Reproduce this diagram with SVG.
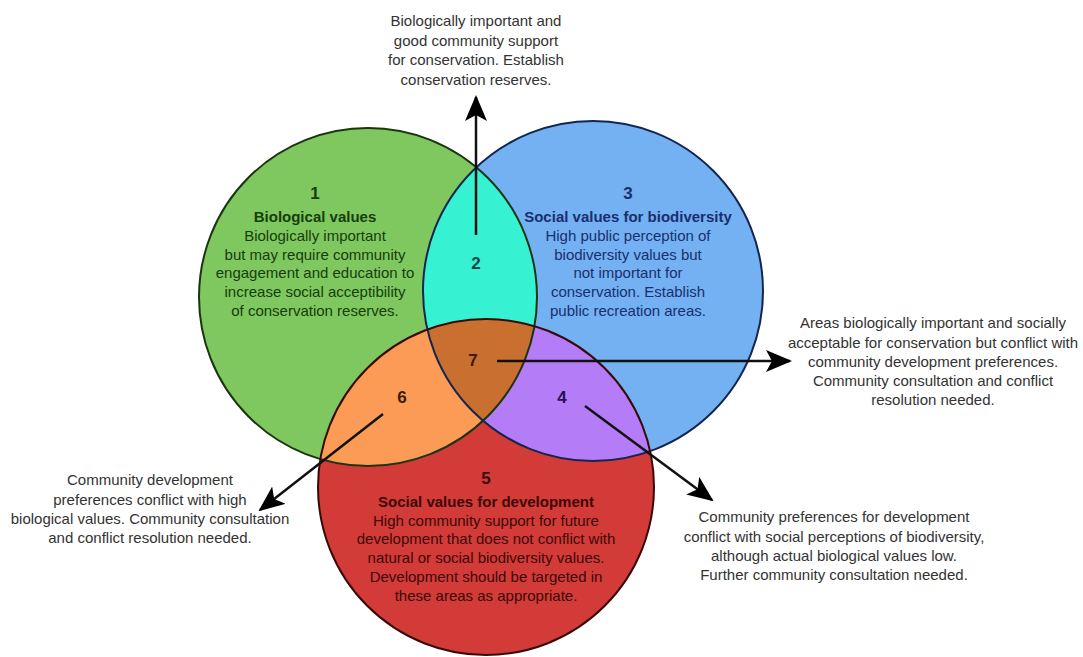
<svg xmlns="http://www.w3.org/2000/svg" width="1083" height="657" viewBox="0 0 1083 657">
<style>
text{font-family:"Liberation Sans",Arial,sans-serif;text-anchor:middle}
.body{font-size:15px}
.title{font-size:15px;font-weight:bold}
.num{font-size:17px;font-weight:bold}
.note{font-size:15px;fill:#333333}
.gtx{fill:#173d0c}
.btx{fill:#1b2e6e}
.rtx{fill:#3d0808}
.outline{fill:none;stroke-width:2}
.conn{stroke:#111111;stroke-width:2.5;fill:none;marker-end:url(#arrow)}
</style>
<defs>
<clipPath id="cG"><circle cx="368" cy="297" r="169"/></clipPath>
<clipPath id="cB"><circle cx="593" cy="291" r="170"/></clipPath>
<clipPath id="cR"><circle cx="486" cy="487" r="168"/></clipPath>
<marker id="arrow" viewBox="0 0 26 22" refX="24" refY="11" markerWidth="26" markerHeight="22" markerUnits="userSpaceOnUse" orient="auto">
<path d="M0,0 L26,11 L0,22 L6,11 Z" fill="#000"/>
</marker>
</defs>
<rect width="1083" height="657" fill="#ffffff"/>

<g id="fills">
<circle cx="368" cy="297" r="169" fill="#7ec85f"/>
<circle cx="593" cy="291" r="170" fill="#73b1f2"/>
<circle cx="486" cy="487" r="168" fill="#d23b37"/>
<circle cx="593" cy="291" r="170" fill="#36f2d2" clip-path="url(#cG)"/>
<circle cx="486" cy="487" r="168" fill="#fb9b55" clip-path="url(#cG)"/>
<circle cx="486" cy="487" r="168" fill="#b57cf7" clip-path="url(#cB)"/>
<g clip-path="url(#cB)"><circle cx="486" cy="487" r="168" fill="#c96f2f" clip-path="url(#cG)"/></g>
</g>
<g id="outlines">
<circle class="outline" cx="368" cy="297" r="169" stroke="#1c3510"/>
<circle class="outline" cx="593" cy="291" r="170" stroke="#14254f"/>
<circle class="outline" cx="486" cy="487" r="168" stroke="#3a0a0a"/>
</g>

<g id="node-1">
<text class="num gtx" x="315" y="199">1</text>
<text class="title gtx" x="315" y="222">Biological values</text>
<text class="body gtx" x="315" y="241">Biologically important</text>
<text class="body gtx" x="315" y="260">but may require community</text>
<text class="body gtx" x="315" y="278">engagement and education to</text>
<text class="body gtx" x="315" y="297">increase social acceptibility</text>
<text class="body gtx" x="315" y="316">of conservation reserves.</text>
</g>
<g id="node-3">
<text class="num btx" x="628" y="199">3</text>
<text class="title btx" x="628" y="222">Social values for biodiversity</text>
<text class="body btx" x="628" y="241">High public perception of</text>
<text class="body btx" x="628" y="260">biodiversity values but</text>
<text class="body btx" x="628" y="278">not important for</text>
<text class="body btx" x="628" y="297">conservation. Establish</text>
<text class="body btx" x="628" y="316">public recreation areas.</text>
</g>
<g id="node-5">
<text class="num rtx" x="486" y="484">5</text>
<text class="title rtx" x="486" y="507">Social values for development</text>
<text class="body rtx" x="486" y="526">High community support for future</text>
<text class="body rtx" x="486" y="544">development that does not conflict with</text>
<text class="body rtx" x="486" y="563">natural or social biodiversity values.</text>
<text class="body rtx" x="486" y="582">Development should be targeted in</text>
<text class="body rtx" x="486" y="601">these areas as appropriate.</text>
</g>
<g id="node-2"><text class="num" x="476" y="269" fill="#0b4a48">2</text></g>
<g id="node-7"><text class="num" x="473" y="366" fill="#3a1a08">7</text></g>
<g id="node-6"><text class="num" x="402" y="403" fill="#3a1a08">6</text></g>
<g id="node-4"><text class="num" x="562" y="403" fill="#2a0f55">4</text></g>

<g id="connectors">
<line class="conn" x1="476" y1="235" x2="476" y2="97"/>
<line class="conn" x1="497" y1="361" x2="790" y2="361"/>
<line class="conn" x1="383" y1="414" x2="260" y2="510"/>
<line class="conn" x1="585" y1="406" x2="712" y2="500"/>
</g>

<g id="note-2">
<text class="note" x="476" y="26">Biologically important and</text>
<text class="note" x="476" y="45.5">good community support</text>
<text class="note" x="476" y="65">for conservation. Establish</text>
<text class="note" x="476" y="84.5">conservation reserves.</text>
</g>
<g id="note-7">
<text class="note" x="933" y="328">Areas biologically important and socially</text>
<text class="note" x="933" y="348">acceptable for conservation but conflict with</text>
<text class="note" x="933" y="367">community development preferences.</text>
<text class="note" x="933" y="386">Community consultation and conflict</text>
<text class="note" x="933" y="405">resolution needed.</text>
</g>
<g id="note-4">
<text class="note" x="834" y="522">Community preferences for development</text>
<text class="note" x="834" y="542">conflict with social perceptions of biodiversity,</text>
<text class="note" x="834" y="561">although actual biological values low.</text>
<text class="note" x="834" y="580">Further community consultation needed.</text>
</g>
<g id="note-6">
<text class="note" x="150" y="485">Community development</text>
<text class="note" x="150" y="505">preferences conflict with high</text>
<text class="note" x="150" y="524">biological values. Community consultation</text>
<text class="note" x="150" y="543">and conflict resolution needed.</text>
</g>
</svg>
